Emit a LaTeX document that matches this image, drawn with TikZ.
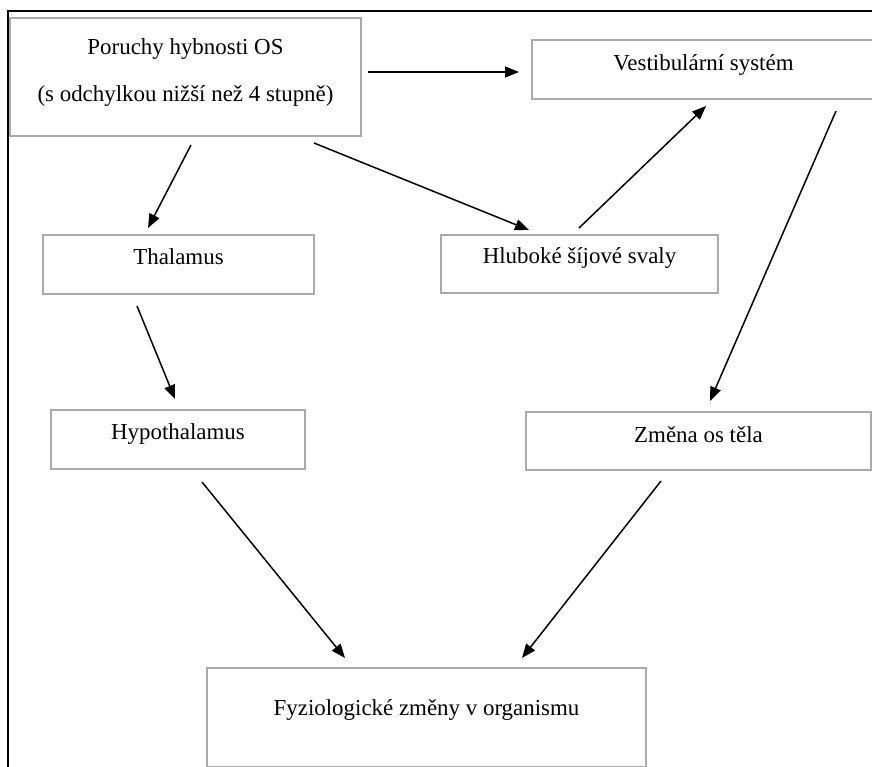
\documentclass[tikz,border=0pt]{standalone}
\usepackage{fontspec}
\setmainfont{Liberation Serif}
\usetikzlibrary{arrows.meta}
\definecolor{boxgray}{RGB}{170,170,170}
\tikzset{
  box/.style={draw=boxgray, line width=1.7bp, rectangle, inner sep=0pt, outer sep=0pt, anchor=north west},
  txt/.style={anchor=base, inner sep=0pt, font=\fontsize{23}{28}\selectfont},
  conn/.style={black, line width=1.5bp, -{Triangle[length=14bp,width=11bp]}},
  frame/.style={black, line width=1.7bp}
}
\begin{document}
\begin{tikzpicture}[x=1bp,y=-1bp]
\useasboundingbox (0,0) rectangle (872,767);
\fill[white] (0,0) rectangle (872,767);
% outer frame
\coordinate (fA) at (8,767);
\coordinate (fB) at (8,11);
\coordinate (fC) at (873,11);
\draw[frame] (fA) -- (fB) -- (fC);
% boxes
\node[box, minimum width=351bp, minimum height=118bp] (por) at (10,18) {};
\node[box, minimum width=343bp, minimum height=59bp] (ves) at (532,40) {};
\node[box, minimum width=271bp, minimum height=59bp] (tha) at (43,235) {};
\node[box, minimum width=277bp, minimum height=58bp] (hlu) at (441,235) {};
\node[box, minimum width=254bp, minimum height=59bp] (hyp) at (51,410) {};
\node[box, minimum width=345bp, minimum height=58bp] (zme) at (526,412) {};
\node[box, minimum width=439bp, minimum height=99bp] (fyz) at (207,668) {};
% texts
\node[txt] (porA) at (185.5,55) {Poruchy hybnosti OS};
\node[txt] (porB) at (185.5,101) {(s odchylkou nižší než 4 stupně)};
\node[txt] (vesT) at (703.5,71) {Vestibulární systém};
\node[txt] (thaT) at (178.5,264) {Thalamus};
\node[txt] (hluT) at (579.5,263) {Hluboké šíjové svaly};
\node[txt] (hypT) at (178,439) {Hypothalamus};
\node[txt] (zmeT) at (698.5,442) {Změna os těla};
\node[txt] (fyzT) at (426.5,715) {Fyziologické změny v organismu};
% connector end points
\coordinate (a1s) at (368,72);  \coordinate (a1e) at (519,72);
\coordinate (a2s) at (191,145); \coordinate (a2e) at (148,228);
\coordinate (a3s) at (314,143); \coordinate (a3e) at (529,230);
\coordinate (a4s) at (579,228); \coordinate (a4e) at (706,106);
\coordinate (a5s) at (836,111); \coordinate (a5e) at (710,401);
\coordinate (a6s) at (137,306); \coordinate (a6e) at (175,399);
\coordinate (a7s) at (202,482); \coordinate (a7e) at (345,658);
\coordinate (a8s) at (661,481); \coordinate (a8e) at (522,658);
% connectors
\draw[conn] (a1s) -- (a1e);
\draw[conn] (a2s) -- (a2e);
\draw[conn] (a3s) -- (a3e);
\draw[conn] (a4s) -- (a4e);
\draw[conn] (a5s) -- (a5e);
\draw[conn] (a6s) -- (a6e);
\draw[conn] (a7s) -- (a7e);
\draw[conn] (a8s) -- (a8e);
\end{tikzpicture}
\end{document}
